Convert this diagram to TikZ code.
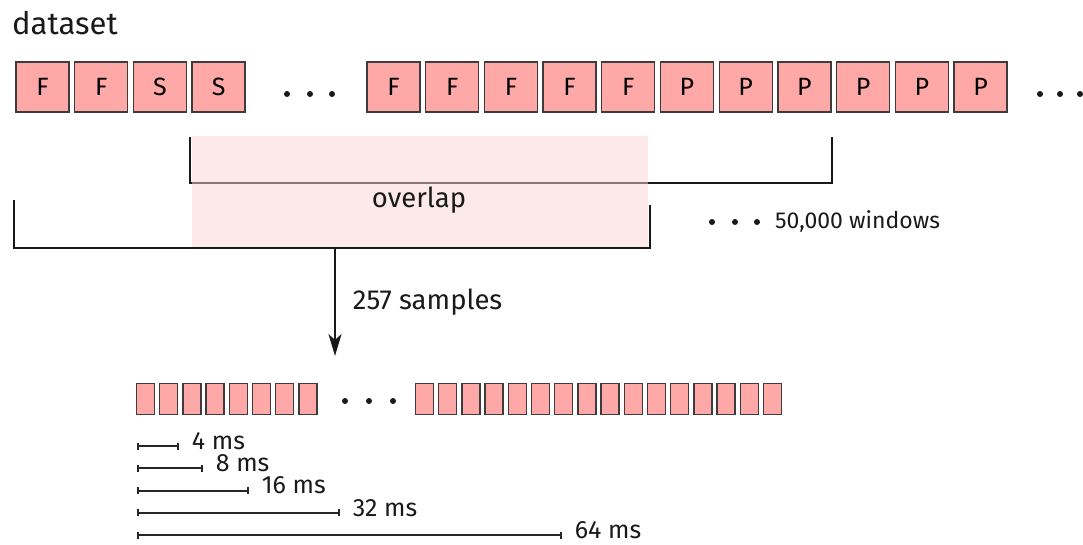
\documentclass[tikz,border=0pt]{standalone}
\usepackage{fontspec}
\setmainfont{Fira Sans}
\usetikzlibrary{arrows.meta,positioning}
\definecolor{boxpink}{HTML}{FFA8A8}
\definecolor{overlappink}{HTML}{FBD3D5}
\definecolor{inkgray}{HTML}{3C3C3C}
\tikzstyle{sample}=[
	rectangle,
	draw=inkgray,
	line width=1.3pt,
	fill=boxpink,
	minimum width=53pt,
	minimum height=50pt,
	inner sep=0pt,
	font=\fontsize{25}{25}\selectfont,
	node distance=4.4pt
]
\tikzstyle{winframe}=[
	rectangle,
	draw=inkgray,
	line width=1.5pt,
	fill=boxpink,
	minimum width=18pt,
	minimum height=31pt,
	inner sep=0pt,
	node distance=3.7pt
]
\tikzstyle{bracket}=[line width=2pt, black!90]
\tikzstyle{flow}=[
	-{Stealth[length=22pt,width=13pt,inset=6pt]},
	line width=1.8pt,
	black!90
]
\tikzstyle{scalebar}=[{Bar[width=7pt]}-{Bar[width=7pt]}, line width=1.8pt, black!85]
\tikzstyle{caption}=[text=black!90, inner sep=0pt]

\begin{document}
\begin{tikzpicture}[x=1pt,y=-1pt]
\useasboundingbox (0,0) rectangle (1083,544);
\node [caption, anchor=base west, font=\fontsize{31}{31}\selectfont] (title) at (12,34) {dataset};
% first windows of the recording
\node [sample] (s1) at (42.5,87) {F};
\node [sample] (s2)[right=of s1] {F};
\node [sample] (s3)[right=of s2] {S};
\node [sample] (s4)[right=of s3] {S};
\foreach \x in {287,310,332}
	\fill[black!90] (\x,94) circle (3);
% later windows
\node [sample] (r1) at (393.5,87) {F};
\foreach \l [count=\i from 2] in {F,F,F,F,P,P,P,P,P,P} {
	\pgfmathtruncatemacro\j{\i-1}
	\node [sample] (r\i)[right=of r\j] {\l};
}
\foreach \x in {1040,1060,1080}
	\fill[black!90] (\x,94) circle (3);
% the two windows and their overlap
\draw[bracket] (190,137) -- (190,183) -- (832,183) -- (832,137);
\fill[overlappink, fill opacity=0.5] (192,136) rectangle (648,247);
\draw[bracket] (14,200) -- (14,248) -- (650,248) -- (650,205);
\node [caption, font=\fontsize{27.5}{27.5}\selectfont] (overlap) at (419,200) {overlap};
\foreach \x in {712,735,757}
	\fill[black!90] (\x,222) circle (3);
\node [caption, anchor=west, font=\fontsize{23}{23}\selectfont] (windows) at (775,221) {50,000 windows};
% one window cut into frames
\coordinate (split) at (335,248);
\coordinate (target) at (335,356);
\draw[flow] (split) -- node[caption, midway, right=17pt, font=\fontsize{27.5}{27.5}\selectfont] (count) {257 samples} (target);
\node [winframe] (f1) at (145.5,399) {};
\foreach \i in {2,...,8} {
	\pgfmathtruncatemacro\j{\i-1}
	\node [winframe] (f\i)[right=of f\j] {};
}
\foreach \x in {345,369,393}
	\fill[black!90] (\x,401) circle (3);
\node [winframe] (g1) at (424.5,399) {};
\foreach \i in {2,...,16} {
	\pgfmathtruncatemacro\j{\i-1}
	\node [winframe] (g\i)[right=of g\j] {};
}
% frame lengths
\foreach \len/\ms [count=\k] in {179/4,203/8,249/16,340/32,562/64} {
	\coordinate (t\k) at (137,{446+(\k-1)*22.3});
	\coordinate (e\k) at (\len,{446+(\k-1)*22.3});
	\draw[scalebar] (t\k) -- (e\k) node[caption, right, xshift=12pt, yshift=5pt, font=\fontsize{25}{25}\selectfont] (ms\k) {\ms\ ms};
}
\end{tikzpicture}
\end{document}
